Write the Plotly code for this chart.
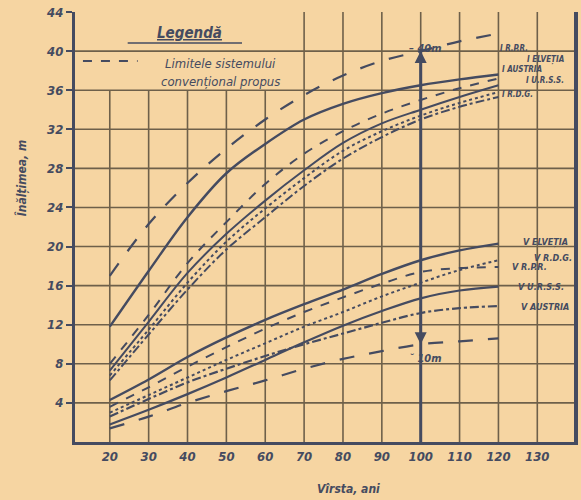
import plotly.graph_objects as go

ages = [20, 30, 40, 50, 60, 70, 80, 90, 100, 110, 120]

limit_upper = [17.0, 22.3, 26.5, 30.0, 33.0, 35.5, 37.5, 39.0, 40.0, 41.0, 41.8]
limit_lower = [1.4, 2.6, 4.0, 5.2, 6.3, 7.5, 8.5, 9.3, 10.0, 10.3, 10.6]

i_rpr = [11.8, 17.5, 23.0, 27.5, 30.5, 33.0, 34.6, 35.7, 36.5, 37.1, 37.6]
i_elvetia = [8.0, 13.0, 18.3, 22.5, 26.4, 29.5, 31.8, 33.6, 35.0, 36.2, 37.2]
i_austria = [7.3, 12.3, 17.3, 21.3, 24.7, 27.8, 30.6, 32.6, 34.0, 35.3, 36.5]
i_urss = [6.8, 11.5, 16.3, 20.5, 23.9, 27.0, 29.8, 31.8, 33.4, 34.7, 35.8]
i_rdg = [6.3, 11.0, 15.6, 19.7, 23.0, 26.2, 29.0, 31.2, 33.0, 34.3, 35.3]

v_elvetia = [4.3, 6.4, 8.7, 10.7, 12.5, 14.1, 15.6, 17.2, 18.6, 19.6, 20.3]
v_rpr = [3.6, 5.6, 7.7, 9.7, 11.6, 13.3, 14.8, 16.2, 17.4, 17.8, 17.9]
v_rdg = [3.0, 4.8, 6.6, 8.4, 10.1, 11.8, 13.3, 14.9, 16.3, 17.6, 18.6]
v_urss = [1.8, 3.3, 4.9, 6.6, 8.4, 10.2, 11.9, 13.4, 14.7, 15.5, 15.9]
v_austria = [2.6, 4.4, 6.1, 7.5, 8.8, 10.0, 11.1, 12.2, 13.2, 13.7, 13.9]

x_ticks = [20, 30, 40, 50, 60, 70, 80, 90, 100, 110, 120, 130]
y_ticks = [4, 8, 12, 16, 20, 24, 28, 32, 36, 40, 44]

i_labels = ["I R.P.R.", "I ELVEȚIA", "I AUSTRIA", "I U.R.S.S.", "I R.D.G."]
v_labels = ["V ELVEȚIA", "V R.D.G.", "V R.P.R.", "V U.R.S.S.", "V AUSTRIA"]

BG = "#F6D5A2"
INK = "#454b60"
GRID = "#6e604a"
FONT = "DejaVu Sans Condensed, Liberation Sans Narrow, DejaVu Sans, sans-serif"

X0, X1 = 11.05, 139.7
Y0, Y1 = 0, 44

fig = go.Figure()

series = [
    (limit_upper, "longdash", 2.2),
    (i_rpr, "solid", 2.4),
    (i_elvetia, "dash", 2.0),
    (i_austria, "solid", 2.0),
    (i_urss, "dot", 2.0),
    (i_rdg, "dashdot", 2.0),
    (v_elvetia, "solid", 2.4),
    (v_rpr, "dash", 2.0),
    (v_rdg, "dot", 2.0),
    (v_urss, "solid", 2.2),
    (v_austria, "dashdot", 2.2),
    (limit_lower, "longdash", 2.2),
]
for ys, dash, w in series:
    fig.add_trace(go.Scatter(x=ages, y=ys, mode="lines", line=dict(color=INK, width=w, dash=dash, shape="spline"),
                             hoverinfo="skip", showlegend=False))

shapes = []
for yv in y_ticks[:-1]:
    shapes.append(dict(type="line", xref="x", yref="y", x0=X0 - 1.5, x1=X1, y0=yv, y1=yv,
                       line=dict(color=GRID, width=1.6), layer="below"))
for xv in x_ticks:
    top = 36 if xv <= 60 else 44
    shapes.append(dict(type="line", xref="x", yref="y", x0=xv, x1=xv, y0=0, y1=top,
                       line=dict(color=GRID, width=1.6), layer="below"))
shapes.append(dict(type="line", xref="x", yref="y", x0=X1, x1=X1, y0=0, y1=44, line=dict(color=INK, width=2)))
shapes.append(dict(type="line", xref="x", yref="y", x0=100, x1=100, y0=0, y1=40, line=dict(color=INK, width=3)))
shapes.append(dict(type="line", xref="paper", yref="paper",
                   x0=(83 - 75) / 503, x1=(138 - 75) / 503, y0=(442 - 61) / 430, y1=(442 - 61) / 430,
                   line=dict(color=INK, width=2.2, dash="dash")))
shapes.append(dict(type="line", xref="paper", yref="paper",
                   x0=(128 - 75) / 503, x1=(243 - 75) / 503, y0=(442 - 43) / 430, y1=(442 - 43) / 430,
                   line=dict(color=INK, width=1.6)))

fig.update_layout(shapes=shapes)

def px_ann(px, py, text, size, **kw):
    d = dict(xref="paper", yref="paper", x=(px - 75) / 503, y=(442 - py) / 430, text=text, showarrow=False,
             xanchor="center", yanchor="middle",
             font=dict(family=FONT, size=size, color=INK, style="italic", weight="bold"))
    d.update(kw)
    fig.add_annotation(**d)

px_ann(190, 33, "<u>Legendă</u>", 15)
px_ann(221, 63, "Limitele sistemului", 13, font=dict(family=FONT, size=13, color=INK, style="italic"))
px_ann(221, 81, "convențional propus", 13, font=dict(family=FONT, size=13, color=INK, style="italic"))

fig.add_annotation(x=100, y=40, ax=100, ay=35, xref="x", yref="y", axref="x", ayref="y", text="",
                   showarrow=True, arrowhead=2, arrowsize=1.2, arrowwidth=2, arrowcolor=INK)
fig.add_annotation(x=100, y=10, ax=100, ay=14, xref="x", yref="y", axref="x", ayref="y", text="",
                   showarrow=True, arrowhead=2, arrowsize=1.2, arrowwidth=2, arrowcolor=INK)
fig.add_annotation(x=100, y=40.3, xref="x", yref="y", text="– 40m", showarrow=False, xanchor="center", xshift=4,
                   font=dict(family=FONT, size=11, color=INK, style="italic", weight="bold"))
fig.add_annotation(x=100, y=8.5, xref="x", yref="y", text="˘ 10m", showarrow=False, xanchor="center", xshift=4,
                   font=dict(family=FONT, size=11, color=INK, style="italic", weight="bold"))

i_pos = [(124, 40.3), (132, 39.1), (126, 38.1), (132, 37.0), (125, 35.6)]
for (ax_, ay_), t in zip(i_pos, i_labels):
    fig.add_annotation(x=ax_, y=ay_, xref="x", yref="y", text=t, showarrow=False,
                       font=dict(family=FONT, size=8, color=INK, style="italic", weight="bold"))
v_pos = [(132, 20.4), (134, 18.8), (128, 17.9), (131, 15.9), (132, 13.8)]
for (ax_, ay_), t in zip(v_pos, v_labels):
    fig.add_annotation(x=ax_, y=ay_, xref="x", yref="y", text=t, showarrow=False,
                       font=dict(family=FONT, size=9, color=INK, style="italic", weight="bold"))

px_ann(22, 178, "Înălțimea, m", 12, textangle=-90)
px_ann(350, 489, "Vîrsta, ani", 12)

fig.update_layout(
    width=581, height=500,
    margin=dict(l=75, r=3, t=12, b=58),
    paper_bgcolor=BG, plot_bgcolor=BG,
    showlegend=False,
    xaxis=dict(range=[X0, X1], tickvals=x_ticks, ticktext=[str(v) for v in x_ticks], showgrid=False,
               zeroline=False, showline=True, linecolor=INK, linewidth=3, mirror=False,
               ticks="", tickfont=dict(family=FONT, size=13, color=INK, style="italic", weight="bold")),
    yaxis=dict(range=[Y0, Y1], tickvals=y_ticks, ticktext=[str(v) for v in y_ticks], showgrid=False,
               zeroline=False, showline=True, linecolor=INK, linewidth=3, mirror=True,
               ticks="outside", ticklen=6, tickcolor=INK, tickwidth=2,
               tickfont=dict(family=FONT, size=13, color=INK, style="italic", weight="bold")),
)

fig.write_html("out.html", config={"displayModeBar": False},
               post_script="document.body.style.margin='0';document.body.style.background='" + BG + "';")
